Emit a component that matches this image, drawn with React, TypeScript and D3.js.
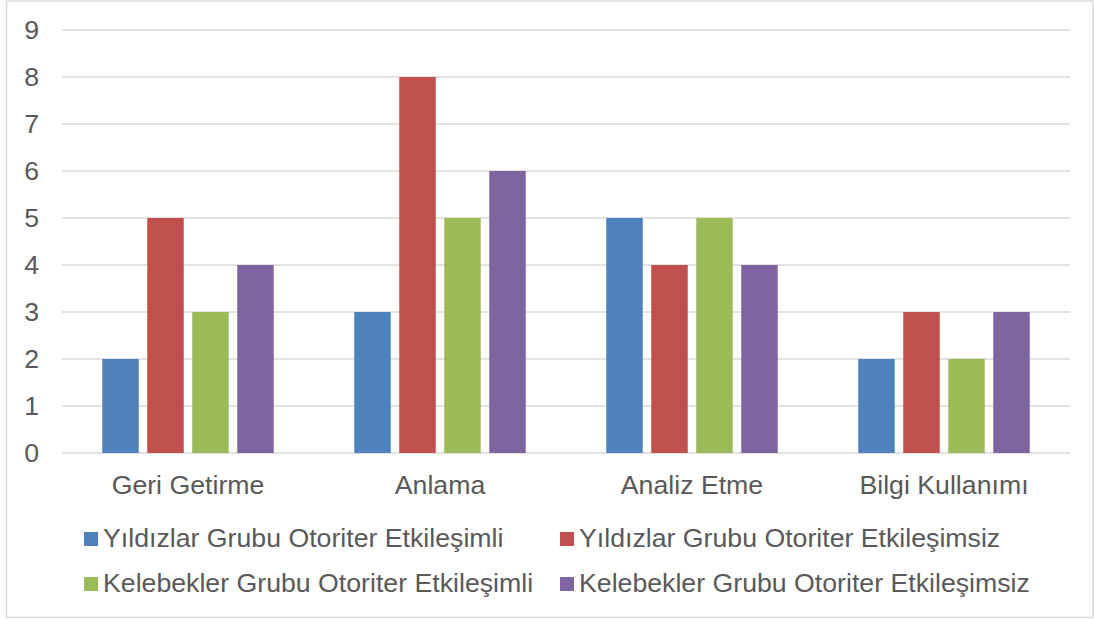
import React from "react";
import * as d3 from "d3";

const categories = ["Geri Getirme", "Anlama", "Analiz Etme", "Bilgi Kullanımı"];
const seriesNames = [
  "Yıldızlar Grubu Otoriter Etkileşimli",
  "Yıldızlar Grubu Otoriter Etkileşimsiz",
  "Kelebekler Grubu Otoriter Etkileşimli",
  "Kelebekler Grubu Otoriter Etkileşimsiz",
];
const yildizlarEtkilesimli = [2, 3, 5, 2];
const yildizlarEtkilesimsiz = [5, 8, 4, 3];
const kelebeklerEtkilesimli = [3, 5, 5, 2];
const kelebeklerEtkilesimsiz = [4, 6, 4, 3];
const seriesValues = [
  yildizlarEtkilesimli,
  yildizlarEtkilesimsiz,
  kelebeklerEtkilesimli,
  kelebeklerEtkilesimsiz,
];
const colors = ["#4F81BD", "#C0504D", "#9BBB59", "#8064A2"];
const yTicks = [0, 1, 2, 3, 4, 5, 6, 7, 8, 9];

const W = 1094;
const H = 619;
const plot = { left: 62, right: 1070, top: 30, bottom: 453 };
const font = "'Liberation Sans', Arial, sans-serif";
const textColor = "#595959";
const fs = 26.7;

export default function App() {
  const x = d3
    .scaleBand<string>()
    .domain(categories)
    .range([plot.left, plot.right])
    .paddingInner(0)
    .paddingOuter(0);
  const y = d3.scaleLinear().domain([0, 9]).range([plot.bottom, plot.top]);

  const barW = 36.5;
  const step = 45;
  const groupSpan = step * 3 + barW;

  const legendRows = [539, 584];
  const legendCols = [84, 560];

  return (
    <svg
      width={W}
      height={H}
      style={{ position: "absolute", left: 0, top: 0, background: "#fff" }}
      fontFamily={font}
    >
      <rect x={6.5} y={1} width={W - 7.5} height={616.5} fill="#fff" stroke="#D9D9D9" strokeWidth={1.5} />
      {yTicks.map((t) => (
        <g key={t}>
          <line
            x1={plot.left}
            x2={plot.right}
            y1={y(t)}
            y2={y(t)}
            stroke="#D9D9D9"
            strokeWidth={1.5}
          />
          <text
            x={39}
            y={y(t)}
            textAnchor="end"
            dominantBaseline="central"
            fontSize={fs}
            fill={textColor}
          >
            {t}
          </text>
        </g>
      ))}
      {categories.map((c, ci) => {
        const cx = (x(c) as number) + x.bandwidth() / 2;
        const x0 = cx - groupSpan / 2;
        return (
          <g key={c}>
            {seriesValues.map((vals, si) => (
              <rect
                key={si}
                x={x0 + si * step}
                y={y(vals[ci])}
                width={barW}
                height={y(0) - y(vals[ci])}
                fill={colors[si]}
              />
            ))}
            <text
              x={cx}
              y={485}
              textAnchor="middle"
              dominantBaseline="central"
              fontSize={fs}
              fill={textColor}
            >
              {c}
            </text>
          </g>
        );
      })}
      {seriesNames.map((name, i) => {
        const lx = legendCols[i % 2];
        const ly = legendRows[Math.floor(i / 2)];
        return (
          <g key={name}>
            <rect x={lx} y={ly - 7} width={14} height={14} fill={colors[i]} />
            <text
              x={lx + 19}
              y={ly - 1}
              dominantBaseline="central"
              fontSize={fs}
              fill={textColor}
            >
              {name}
            </text>
          </g>
        );
      })}
    </svg>
  );
}
